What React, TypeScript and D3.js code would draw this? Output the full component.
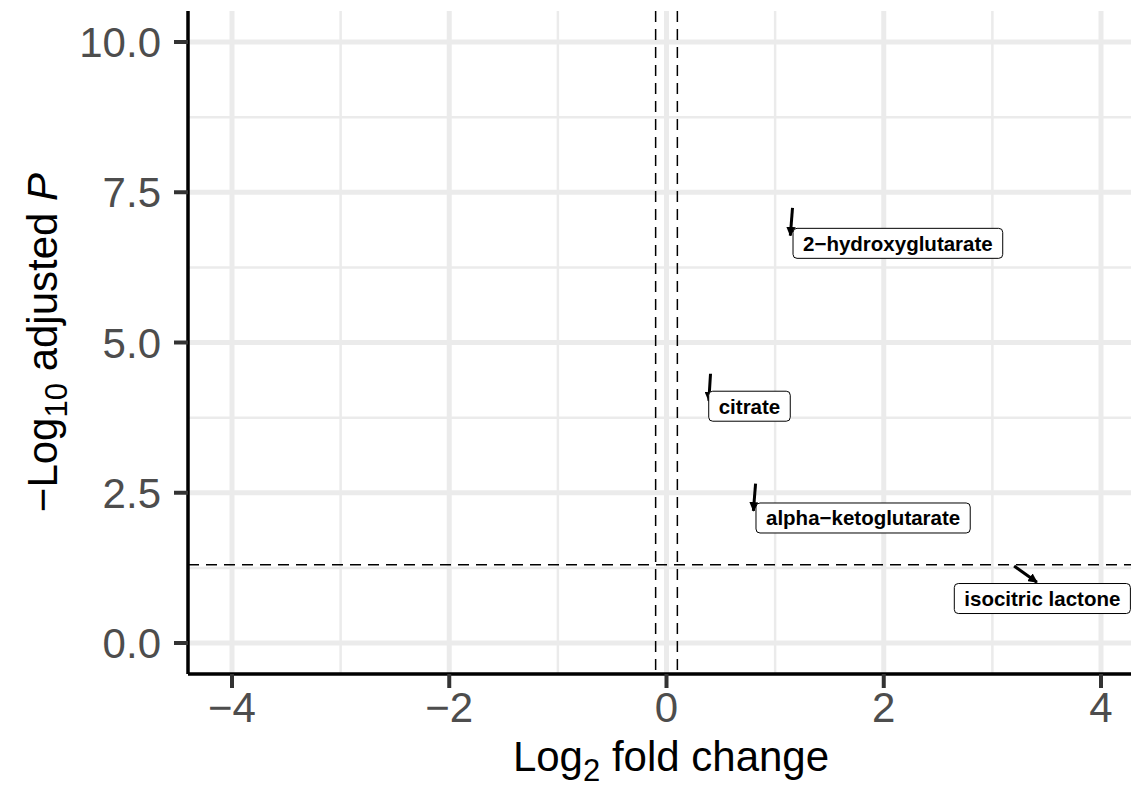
import React, { useEffect } from "react";
import * as d3 from "d3";

// metabolites shown on the volcano plot
const labels = ["2\u2212hydroxyglutarate", "citrate", "alpha\u2212ketoglutarate", "isocitric lactone"];
// point positions (arrow tips)
const log2FC = [1.14, 0.39, 0.8, 3.41];
const negLog10P = [6.78, 4.03, 2.2, 1.01];
// connector start positions
const segX = [1.16, 0.405, 0.82, 3.2];
const segY = [7.24, 4.48, 2.65, 1.28];
// label box centres
const labelX = [2.13, 0.764, 1.81, 3.46];
const labelY = [6.65, 3.94, 2.08, 0.74];

const xTicks = [-4, -2, 0, 2, 4];
const xMinor = [-3, -1, 1, 3];
const yTicks = [0, 2.5, 5, 7.5, 10];
const yMinor = [1.25, 3.75, 6.25, 8.75];

const fcCut = 0.1;
const pCut = 0.05;

const W = 1131, H = 795;
const left = 188, right = 1154, top = 11, bottom = 674;
const font = "'Liberation Sans', Arial, Helvetica, sans-serif";

// measure label widths so boxes fit the text
const ctx = document.createElement("canvas").getContext("2d");
const textWidth = (s: string, size: number) => {
  if (!ctx) return s.length * size * 0.55;
  ctx.font = `bold ${size}px ${font}`;
  return ctx.measureText(s).width;
};

const App = () => {
  useEffect(() => {
    document.body.style.margin = "0";
  }, []);

  const x = d3.scaleLinear().domain([-4, 4]).range([232, 1101]);
  const y = d3.scaleLinear().domain([0, 10]).range([643, 42]);
  const labSize = 20.5;

  return (
    <svg width={W} height={H} style={{ display: "block", fontFamily: font }}>
      <defs>
        <marker id="arr" viewBox="0 0 10 10" refX="9" refY="5" markerWidth="3.2" markerHeight="3.2" orient="auto">
          <path d="M0,0 L10,5 L0,10 z" fill="black" />
        </marker>
      </defs>
      {/* grid */}
      {yMinor.map(v => (
        <line key={"ym" + v} x1={left} x2={right} y1={y(v)} y2={y(v)} stroke="#ebebeb" strokeWidth={2.5} />
      ))}
      {xMinor.map(v => (
        <line key={"xm" + v} x1={x(v)} x2={x(v)} y1={top} y2={bottom} stroke="#ebebeb" strokeWidth={2.5} />
      ))}
      {yTicks.map(v => (
        <line key={"yg" + v} x1={left} x2={right} y1={y(v)} y2={y(v)} stroke="#ebebeb" strokeWidth={5} />
      ))}
      {xTicks.map(v => (
        <line key={"xg" + v} x1={x(v)} x2={x(v)} y1={top} y2={bottom} stroke="#ebebeb" strokeWidth={5} />
      ))}

      {/* cutoffs */}
      {[-fcCut, fcCut].map(v => (
        <line key={"fc" + v} x1={x(v)} x2={x(v)} y1={top} y2={bottom} stroke="black" strokeWidth={1.5} strokeDasharray="11,7" />
      ))}
      <line x1={left} x2={right} y1={y(-Math.log10(pCut))} y2={y(-Math.log10(pCut))} stroke="black" strokeWidth={1.5} strokeDasharray="11,7" />

      {/* connectors and labels */}
      {labels.map((lab, i) => {
        const bw = textWidth(lab, labSize) + 20;
        const bh = 30;
        const cx = x(labelX[i]);
        const cy = y(labelY[i]);
        return (
          <g key={lab}>
            <line x1={x(segX[i])} y1={y(segY[i])} x2={x(log2FC[i])} y2={y(negLog10P[i])} stroke="black" strokeWidth={3} markerEnd="url(#arr)" />
            <rect x={cx - bw / 2} y={cy - bh / 2} width={bw} height={bh} rx={4} fill="white" stroke="black" strokeWidth={1} />
            <text x={cx} y={cy} dy="0.36em" textAnchor="middle" fontSize={labSize} fontWeight="bold" fill="black">{lab}</text>
          </g>
        );
      })}

      {/* axes */}
      <line x1={left} x2={left} y1={top} y2={bottom} stroke="black" strokeWidth={3.5} />
      <line x1={left} x2={right} y1={bottom} y2={bottom} stroke="black" strokeWidth={3.5} />
      {yTicks.map(v => (
        <g key={"yt" + v}>
          <line x1={left - 14} x2={left} y1={y(v)} y2={y(v)} stroke="#333333" strokeWidth={4} />
          <text x={left - 27} y={y(v)} dy="0.36em" textAnchor="end" fontSize={42} fill="#4d4d4d">{d3.format(".1f")(v)}</text>
        </g>
      ))}
      {xTicks.map(v => (
        <g key={"xt" + v}>
          <line x1={x(v)} x2={x(v)} y1={bottom} y2={bottom + 14} stroke="#333333" strokeWidth={4} />
          <text x={x(v)} y={bottom + 48} textAnchor="middle" fontSize={42} fill="#4d4d4d">{v < 0 ? "\u2212" + Math.abs(v) : v}</text>
        </g>
      ))}

      {/* titles */}
      <text x={(left + right) / 2} y={771} textAnchor="middle" fontSize={42} fill="black">
        Log<tspan fontSize={31} dy={10}>2</tspan><tspan dy={-10}> fold change</tspan>
      </text>
      <text transform={`translate(57,${(top + bottom) / 2}) rotate(-90)`} textAnchor="middle" fontSize={42} fill="black">
        {"\u2212"}Log<tspan fontSize={31} dy={10}>10</tspan><tspan dy={-10}> adjusted </tspan><tspan fontStyle="italic">P</tspan>
      </text>
    </svg>
  );
};

export default App;
